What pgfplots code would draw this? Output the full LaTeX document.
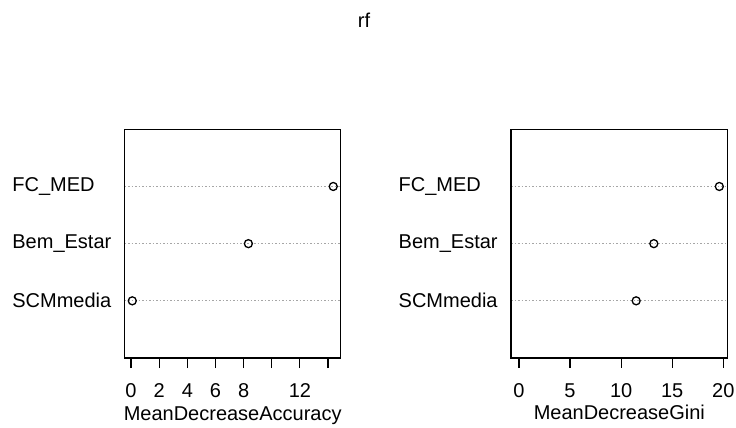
\documentclass[border=0pt]{standalone}
\usepackage{fontspec}
\setmainfont{Liberation Sans}
\usepackage{pgfplots}
\pgfplotsset{compat=1.18}
\begin{document}
\fontsize{20}{24}\selectfont%
\begin{tikzpicture}
\useasboundingbox (0pt,0pt) rectangle (736pt,428pt);
\pgfplotsset{
 rfstyle/.style={
  scale only axis, width=216pt, height=228.7pt,
  ymin=0, ymax=4, ytick={1,2,3},
  yticklabels={SCMmedia,Bem\_Estar,FC\_MED},
  axis line style={line width=1.2pt},
  tick align=outside,
  xtick pos=lower,
  y tick style={draw=none},
  x tick style={line width=1.2pt, black},
  major tick length=10pt,
  ymajorgrids,
  major grid style={black!35, line width=0.9pt, dash pattern=on 1.5pt off 2pt},
  /pgf/number format/assume math mode=true,
  tick label style={font=\fontsize{20}{24}\selectfont},
  label style={font=\fontsize{20}{24}\selectfont},
  xticklabel style={anchor=base, yshift=-29.7pt},
  xlabel style={at={(axis description cs:0.5,0)}, anchor=base, yshift=-62pt},
  yticklabel style={anchor=west, inner sep=0pt, xshift=-102.5pt},
  clip=false,
 },
}
\node[anchor=base] at (364pt,400pt) {rf};
\begin{axis}[rfstyle, at={(124.7pt,70pt)}, anchor=south west,
  xmin=-0.45, xmax=14.9,
  xtick={0,2,4,6,8,10,12,14},
  xticklabels={0,2,4,6,8,,12,},
  xlabel={MeanDecreaseAccuracy}]
\addplot[only marks, mark=o, mark size=4pt, mark options={line width=1.3pt, fill=white, black}]
 coordinates {(14.37,3) (8.34,2) (0.09,1)};
\end{axis}
\begin{axis}[rfstyle, at={(511pt,70pt)}, anchor=south west,
  width=216.7pt,
  xmin=-0.78, xmax=20.43,
  xtick={0,5,10,15,20},
  xlabel={MeanDecreaseGini}]
\addplot[only marks, mark=o, mark size=4pt, mark options={line width=1.3pt, fill=white, black}]
 coordinates {(19.61,3) (13.2,2) (11.47,1)};
\end{axis}
\end{tikzpicture}%
\end{document}
